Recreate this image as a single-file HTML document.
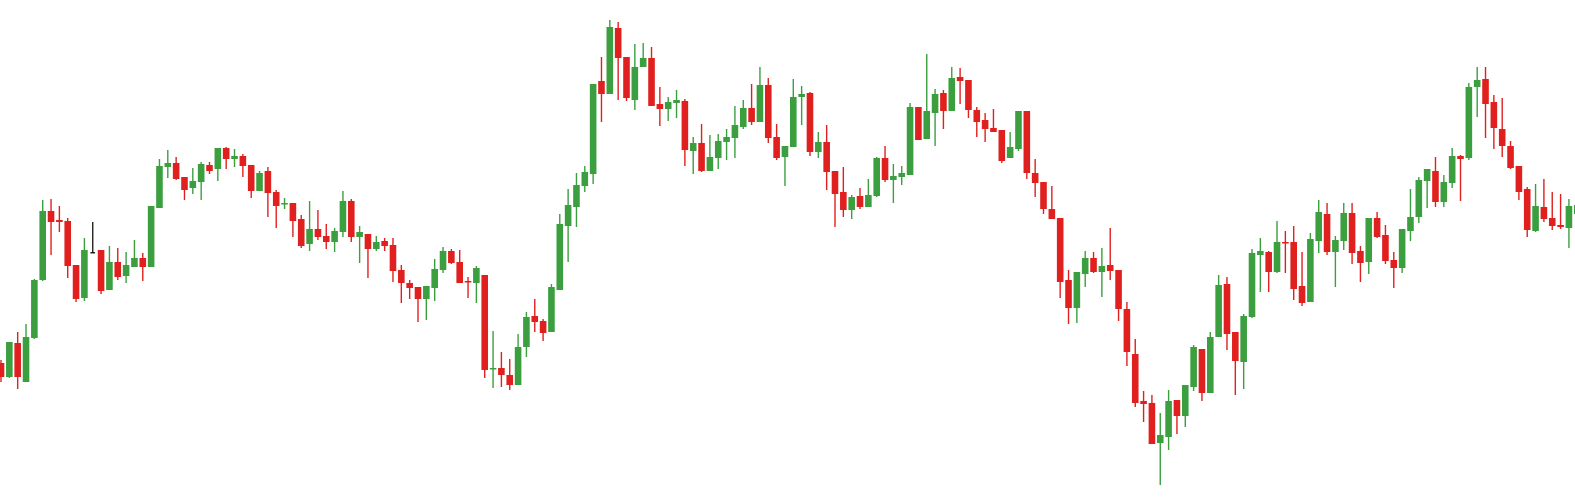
<!DOCTYPE html>
<html><head><meta charset="utf-8"><title>Candlestick chart</title>
<style>html,body{margin:0;padding:0;background:#fff;overflow:hidden}svg{display:block}</style>
</head><body>
<svg id="chart" width="1575" height="500" viewBox="0 0 1575 500" xmlns="http://www.w3.org/2000/svg">
<rect x="0" y="0" width="1575" height="500" fill="#ffffff"/>
<g id="candles"></g>
</svg>
<script>
const opens=[137,123,157,118,162,220,289,280,279,235,202,248,250,210,238,224,233,242,233,292,333,337,323,312,318,335,331,352,341,344,335,309,329,308,296,297,281,256,271,264,258,268,299,263,266,251,259,255,230,217,213,201,212,230,249,238,219,217,225,131,132,125,115,153,184,179,168,210,274,293,314,326,419,406,472,443,400,433,442,396,391,397,399,349,357,329,342,358,362,373,392,378,415,363,343,353,403,407,348,358,329,308,290,304,293,304,342,320,323,325,393,361,387,407,389,423,420,390,380,372,370,342,351,389,327,318,291,282,220,192,226,242,228,235,230,191,146,99,97,57,63,100,84,113,151,107,163,216,168,138,183,245,248,228,258,258,214,198,259,286,248,259,287,249,238,282,265,240,232,269,283,319,329,298,317,344,342,413,421,398,371,354,334,311,269,293,282,275,272,286];
const closes=[123,158,123,163,220,289,278,278,234,201,250,248,209,238,223,235,242,233,294,334,337,321,310,319,336,329,352,341,344,334,309,327,307,294,297,279,254,271,263,258,269,299,263,268,251,258,254,229,217,212,201,214,231,249,237,217,218,232,130,132,125,115,153,183,178,167,213,276,295,315,328,416,406,473,442,402,433,442,394,391,398,400,350,357,329,343,359,363,375,392,378,415,362,342,354,403,406,348,358,328,306,290,303,293,305,342,320,324,327,393,360,389,406,389,422,419,390,378,371,368,339,353,389,327,317,291,281,218,192,228,242,228,234,229,191,148,97,96,56,65,99,84,115,153,107,163,215,166,139,184,247,249,228,258,257,211,197,261,288,248,260,287,247,237,282,263,239,232,271,283,320,331,298,318,344,341,413,420,396,372,354,332,308,270,294,281,274,273,294,295];
const highs=[140,158,168,176,221,300,301,294,282,235,262,278,250,254,252,248,260,247,294,341,350,343,323,332,338,338,352,353,351,346,335,329,333,310,302,297,285,299,290,276,272,309,301,274,266,264,262,262,235,220,213,214,241,253,251,250,223,234,225,169,148,141,166,188,201,181,216,286,311,327,334,416,443,480,478,443,456,457,453,413,403,410,401,363,376,365,366,371,394,400,416,433,422,376,354,421,414,408,368,375,329,333,305,312,321,343,354,336,334,397,393,446,411,410,433,432,420,393,387,391,370,368,389,389,341,318,314,282,230,228,249,248,252,272,230,198,161,109,105,87,110,100,115,155,151,168,225,223,168,186,251,262,249,279,269,274,248,267,300,297,264,297,297,254,282,288,275,248,271,311,323,331,343,325,352,345,417,433,433,405,402,359,334,313,316,321,308,306,301,300];
const lows=[118,122,111,118,161,219,245,268,222,198,199,247,206,210,220,217,233,219,233,292,322,320,300,306,300,326,319,331,333,323,302,309,283,272,291,263,252,249,260,251,248,263,258,237,222,249,249,218,197,201,178,180,199,227,236,217,202,197,122,112,113,110,115,143,168,159,168,210,238,273,308,316,378,406,400,399,390,433,394,374,379,382,334,326,328,329,331,340,342,371,375,378,357,340,314,353,375,344,342,310,273,283,281,291,293,303,318,297,315,325,360,361,354,371,389,396,382,363,358,368,337,342,349,321,303,286,281,202,176,177,213,227,203,220,179,134,93,78,56,15,50,66,73,109,99,107,163,150,105,111,182,208,208,227,227,200,194,198,247,245,213,250,236,218,226,262,236,212,227,259,277,292,293,293,312,299,340,383,362,351,343,331,300,263,268,278,270,271,252,280];

const UP='#3b9f3f', DOWN='#e0201f', DOJI='#222222';
const X0=1, STEP=8.34, BODY_W=6.6, WICK_W=1.4;
const VMIN=0, VMAX=500, H=500;
function xScale(i){return X0+i*STEP;}
function yScale(v){return H-(v-VMIN)/(VMAX-VMIN)*H;}

const g=document.getElementById('candles');
const NS='http://www.w3.org/2000/svg';
for(let i=0;i<opens.length;i++){
  const o=opens[i],c=closes[i],h=highs[i],l=lows[i];
  const col=c>o?UP:(c<o?DOWN:DOJI);
  const cx=xScale(i);
  const grp=document.createElementNS(NS,'g');
  
  
  const wick=document.createElementNS(NS,'rect');
  
  
  wick.setAttribute('x',cx-WICK_W/2);
  wick.setAttribute('y',yScale(h));
  wick.setAttribute('width',WICK_W);
  wick.setAttribute('height',Math.max(1,yScale(l)-yScale(h)));
  wick.setAttribute('fill',col);
  grp.appendChild(wick);
  const body=document.createElementNS(NS,'rect');
  
  
  const top=yScale(Math.max(o,c)), bot=yScale(Math.min(o,c));
  const bw=(o===c)?BODY_W*0.7:BODY_W;
  body.setAttribute('x',cx-bw/2);
  body.setAttribute('y',top);
  body.setAttribute('width',bw);
  body.setAttribute('height',Math.max(1.5,bot-top));
  body.setAttribute('fill',col);
  grp.appendChild(body);
  g.appendChild(grp);
}
</script>
</body></html>
